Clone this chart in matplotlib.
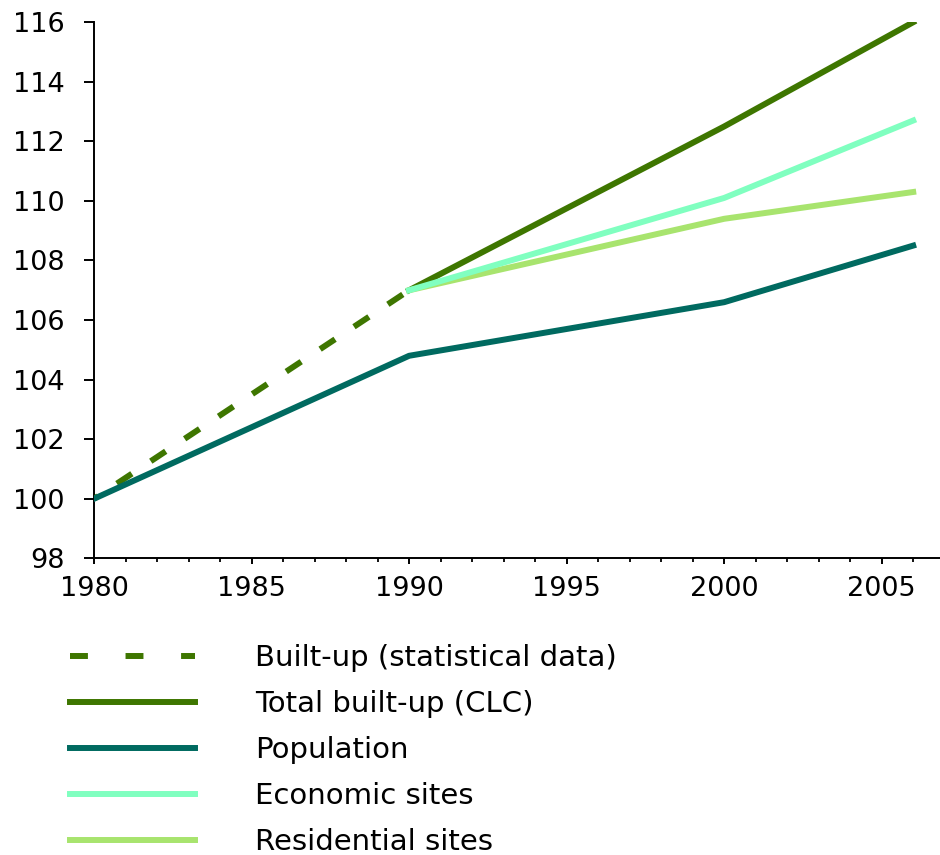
import matplotlib
matplotlib.use("Agg")
import matplotlib.pyplot as plt
from matplotlib.ticker import MultipleLocator
from matplotlib.lines import Line2D

# Data
years_stat = [1980, 1990]
builtup_stat = [100.0, 107.0]

years_clc = [1990, 2000, 2006]
total_builtup = [107.0, 112.5, 116.0]
economic = [107.0, 110.1, 112.7]
residential = [107.0, 109.4, 110.3]

years_pop = [1980, 1990, 2000, 2006]
population = [100.0, 104.8, 106.6, 108.5]

labels = ["Built-up (statistical data)", "Total built-up (CLC)", "Population",
          "Economic sites", "Residential sites"]
colors = ["#3e7600", "#3e7600", "#006a60", "#80ffc0", "#a8e46e"]

plt.rcParams['font.family'] = ['DejaVu Sans']
fig = plt.figure(figsize=(9.4, 8.55), dpi=100)
ax = fig.add_axes([0.1, 0.347, 0.9, 0.627])

lw = 4.3
h0, = ax.plot(years_stat, builtup_stat, color=colors[0], lw=lw,
              linestyle=(2.2, (3.0, 3.8)), dash_capstyle='butt',
              label=labels[0], zorder=3)
h1, = ax.plot(years_clc, total_builtup, color=colors[1], lw=lw, label=labels[1], zorder=3)
h2, = ax.plot(years_pop, population, color=colors[2], lw=lw, label=labels[2], zorder=3)
h4, = ax.plot(years_clc, residential, color=colors[4], lw=lw, label=labels[4], zorder=4)
h3, = ax.plot(years_clc, economic, color=colors[3], lw=lw, label=labels[3], zorder=5)

ax.set_xlim(1980, 2006.85)
ax.set_ylim(98, 116)
ax.xaxis.set_major_locator(MultipleLocator(5))
ax.xaxis.set_minor_locator(MultipleLocator(1))
ax.yaxis.set_major_locator(MultipleLocator(2))
for s in ['top', 'right']:
    ax.spines[s].set_visible(False)
for s in ['left', 'bottom']:
    ax.spines[s].set_linewidth(1.4)
ax.tick_params(axis='both', which='major', direction='out', width=1.4,
               labelsize=19.5, colors='black')
ax.tick_params(axis='y', which='major', length=7.2, pad=14)
ax.tick_params(axis='x', which='major', length=4.5, pad=8)
ax.tick_params(axis='x', which='minor', direction='out', length=3, width=1.3)

# legend proxy for the dashed series (legend dash pattern differs from the plot)
h0_leg = Line2D([], [], color=colors[0], lw=lw, dashes=(3.0, 6.3), dash_capstyle='butt')

fig.legend(handles=[h0_leg, h1, h2, h3, h4], labels=labels, loc='upper left',
           bbox_to_anchor=(0.0745, 0.2467), frameon=False, fontsize=21,
           handlelength=4.3, handletextpad=2.05, labelspacing=0.62,
           borderpad=0, borderaxespad=0)

fig.savefig("out.png", dpi=100)
